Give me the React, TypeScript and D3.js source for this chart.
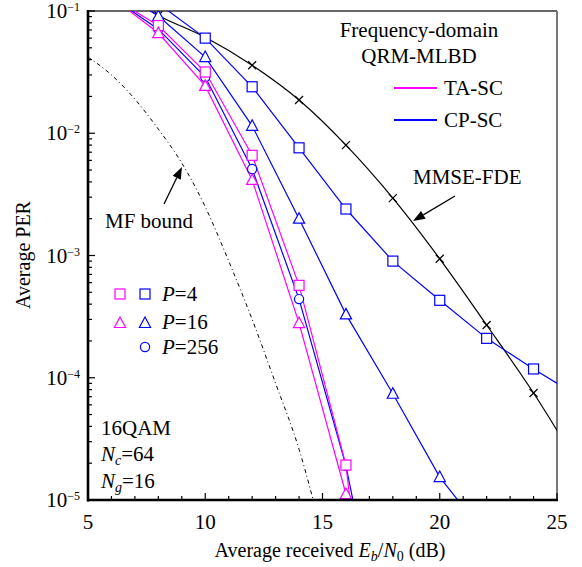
import React from 'react';
import * as d3 from 'd3';

type Pt = [number, number];

const W = 582;
const H = 567;
const PLOT = { left: 88, right: 557, top: 11, bottom: 500 };
const FONT = '"Liberation Serif", "Times New Roman", serif';

// axis ticks
const xTicks = [5, 10, 15, 20, 25];
const xMinor = d3.range(5, 26, 1);
const yTicks = [1e-1, 1e-2, 1e-3, 1e-4, 1e-5];
const yTickExp = ['−1', '−2', '−3', '−4', '−5'];

// values (Eb/N0 dB, PER)
const mfBound: Pt[] = [[5, 0.042], [6, 0.03], [7, 0.019], [8, 0.0108], [9, 0.0057], [10, 0.0025], [11, 0.0009], [12, 0.0003], [13, 9e-5], [14, 2.6e-5], [15, 5e-6]];
const mmseFde: Pt[] = [[6, 0.16], [8, 0.092], [10, 0.061], [12, 0.036], [14, 0.0187], [16, 0.008], [18, 0.00295], [20, 0.00094], [22, 0.00027], [24, 7.5e-5], [26, 1.8e-5]];
const cpP4: Pt[] = [[8, 0.115], [10, 0.06], [12, 0.024], [14, 0.0076], [16, 0.0024], [18, 0.0009], [20, 0.00043], [22, 0.00021], [24, 0.000118], [26, 6.9e-5]];
const cpP16: Pt[] = [[6, 0.16], [8, 0.091], [10, 0.042], [12, 0.0115], [14, 0.002], [16, 0.00033], [18, 7.4e-5], [20, 1.54e-5], [22, 5e-6]];
const cpP256: Pt[] = [[6, 0.13], [8, 0.071], [10, 0.0288], [12, 0.0051], [14, 0.00044], [16, 1.9e-5], [18, 2.5e-7]];
const taP4: Pt[] = [[6, 0.13], [8, 0.076], [10, 0.0317], [12, 0.0066], [14, 0.00057], [16, 1.93e-5], [18, 1e-8]];
const taP16: Pt[] = [[6, 0.13], [8, 0.066], [10, 0.0244], [12, 0.00415], [14, 0.00028], [16, 1.12e-5], [18, 6e-7]];

const MAGENTA = '#ff00ff';
const BLUE = '#0000ff';

type Marker = 'square' | 'triangle' | 'circle' | 'x' | 'none';

const series: { id: string; data: Pt[]; color: string; marker: Marker; smooth: boolean; dash?: string; width?: number }[] = [
  { id: 'mf', data: mfBound, color: '#000', marker: 'none', smooth: true, dash: '4,3,1,3', width: 1 },
  { id: 'mmse', data: mmseFde, color: '#000', marker: 'x', smooth: true },
  { id: 'cp4', data: cpP4, color: BLUE, marker: 'square', smooth: false },
  { id: 'cp16', data: cpP16, color: BLUE, marker: 'triangle', smooth: false },
  { id: 'cp256', data: cpP256, color: BLUE, marker: 'circle', smooth: false },
  { id: 'ta4', data: taP4, color: MAGENTA, marker: 'square', smooth: false },
  { id: 'ta16', data: taP16, color: MAGENTA, marker: 'triangle', smooth: false },
];

function MarkerShape({ kind, cx, cy, color }: { kind: Marker; cx: number; cy: number; color: string }) {
  const sw = 1.2;
  if (kind === 'square') return <rect x={cx - 5} y={cy - 5} width={10} height={10} fill="#fff" stroke={color} strokeWidth={sw} />;
  if (kind === 'circle') return <circle cx={cx} cy={cy} r={4.6} fill="#fff" stroke={color} strokeWidth={sw} />;
  if (kind === 'triangle')
    return <path d={`M${cx},${cy - 6}L${cx + 5.6},${cy + 4.5}L${cx - 5.6},${cy + 4.5}Z`} fill="#fff" stroke={color} strokeWidth={sw} />;
  if (kind === 'x')
    return <path d={`M${cx - 4},${cy - 4}L${cx + 4},${cy + 4}M${cx - 4},${cy + 4}L${cx + 4},${cy - 4}`} stroke={color} strokeWidth={sw} />;
  return null;
}

function Arrow({ x1, y1, x2, y2 }: { x1: number; y1: number; x2: number; y2: number }) {
  const a = Math.atan2(y2 - y1, x2 - x1);
  const len = 12, hw = 4.5;
  const bx = x2 - len * Math.cos(a), by = y2 - len * Math.sin(a);
  const px = -Math.sin(a) * hw, py = Math.cos(a) * hw;
  return (
    <g>
      <line x1={x1} y1={y1} x2={bx} y2={by} stroke="#000" strokeWidth={1.3} />
      <path d={`M${x2},${y2}L${bx + px},${by + py}L${bx - px},${by - py}Z`} fill="#000" />
    </g>
  );
}

export default function App() {
  const x = d3.scaleLinear().domain([5, 25]).range([PLOT.left, PLOT.right]);
  const y = d3.scaleLog().domain([1e-5, 1e-1]).range([PLOT.bottom, PLOT.top]);

  const yMinor: number[] = [];
  [1e-5, 1e-4, 1e-3, 1e-2].forEach(d => {
    for (let k = 2; k <= 9; k++) yMinor.push(d * k);
  });

  const lineFor = (smooth: boolean) =>
    d3.line<Pt>().x(d => x(d[0])).y(d => y(d[1])).curve(smooth ? d3.curveMonotoneX : d3.curveLinear);

  const fs = 21;

  return (
    <svg width={W} height={H} style={{ position: 'absolute', left: 0, top: 0, background: '#fff' }} fontFamily={FONT}>
      <defs>
        <clipPath id="plot-clip">
          <rect x={PLOT.left} y={PLOT.top} width={PLOT.right - PLOT.left} height={PLOT.bottom - PLOT.top} />
        </clipPath>
      </defs>

      {/* frame */}
      <line x1={PLOT.left} x2={PLOT.right} y1={PLOT.top} y2={PLOT.top} stroke="#333" strokeWidth={1.3} />
      <line x1={PLOT.right} x2={PLOT.right} y1={PLOT.top} y2={PLOT.bottom} stroke="#777" strokeWidth={2} />

      {/* ticks */}
      {yMinor.map(v => (
        <line key={'ym' + v} x1={PLOT.left} x2={PLOT.left + 4} y1={y(v)} y2={y(v)} stroke="#000" strokeWidth={1.2} />
      ))}
      {yTicks.map(v => (
        <line key={'yM' + v} x1={PLOT.left} x2={PLOT.left + 7} y1={y(v)} y2={y(v)} stroke="#000" strokeWidth={1.2} />
      ))}
      {xMinor.map(v => (
        <line key={'xm' + v} x1={x(v)} x2={x(v)} y1={PLOT.bottom} y2={PLOT.bottom - (v % 5 === 0 ? 7 : 4)} stroke="#000" strokeWidth={1.2} />
      ))}

      {/* curves */}
      <g clipPath="url(#plot-clip)">
        {series.map(s => (
          <path key={s.id} d={lineFor(s.smooth)(s.data) ?? ''} fill="none" stroke={s.color} strokeWidth={s.width ?? 1.2} strokeDasharray={s.dash} />
        ))}
        {series.map(s =>
          s.data.map(d => <MarkerShape key={s.id + d[0]} kind={s.marker} cx={x(d[0])} cy={y(d[1])} color={s.color} />)
        )}
      </g>

      {/* main axes */}
      <line x1={PLOT.left} x2={PLOT.left} y1={PLOT.top - 1} y2={PLOT.bottom + 1.5} stroke="#000" strokeWidth={2.6} />
      <line x1={PLOT.left - 1} x2={PLOT.right + 1} y1={PLOT.bottom} y2={PLOT.bottom} stroke="#000" strokeWidth={2.6} />

      {/* tick labels */}
      {yTicks.map((v, i) => (
        <text key={'yl' + v} x={80} y={y(v) + 7} textAnchor="end" fontSize={fs} fill="#000">
          10<tspan fontSize={12} dy={-7}>{yTickExp[i]}</tspan>
        </text>
      ))}
      {xTicks.map(v => (
        <text key={'xl' + v} x={x(v)} y={529} textAnchor="middle" fontSize={fs} fill="#000">
          {v}
        </text>
      ))}

      {/* axis titles */}
      <text transform="translate(30,255) rotate(-90)" textAnchor="middle" fontSize={20} fill="#000">
        Average PER
      </text>
      <text x={330} y={557} textAnchor="middle" fontSize={20} fill="#000">
        Average received <tspan fontStyle="italic">E</tspan>
        <tspan fontStyle="italic" fontSize={14} dy={4}>b</tspan>
        <tspan dy={-4}>/</tspan>
        <tspan fontStyle="italic">N</tspan>
        <tspan fontSize={14} dy={4}>0</tspan>
        <tspan dy={-4}> (dB)</tspan>
      </text>

      {/* legend: decoder */}
      <text x={419} y={37} textAnchor="middle" fontSize={fs} fill="#000">Frequency-domain</text>
      <text x={419} y={63} textAnchor="middle" fontSize={fs} fill="#000">QRM-MLBD</text>
      <line x1={394} x2={437} y1={88} y2={88} stroke={MAGENTA} strokeWidth={2} />
      <text x={444} y={95} fontSize={fs} fill="#000">TA-SC</text>
      <line x1={394} x2={437} y1={120} y2={120} stroke={BLUE} strokeWidth={2} />
      <text x={444} y={127} fontSize={fs} fill="#000">CP-SC</text>

      {/* annotations */}
      <text x={413} y={184} fontSize={fs} fill="#000">MMSE-FDE</text>
      <Arrow x1={455} y1={196} x2={413} y2={221} />
      <text x={105} y={228} fontSize={fs} fill="#000">MF bound</text>
      <Arrow x1={164} y1={204} x2={182} y2={167} />

      {/* legend: P */}
      <MarkerShape kind="square" cx={120} cy={294} color={MAGENTA} />
      <MarkerShape kind="square" cx={145} cy={294} color={BLUE} />
      <text x={162} y={301} fontSize={fs} fill="#000"><tspan fontStyle="italic">P</tspan>=4</text>
      <MarkerShape kind="triangle" cx={120} cy={323} color={MAGENTA} />
      <MarkerShape kind="triangle" cx={145} cy={323} color={BLUE} />
      <text x={162} y={329} fontSize={fs} fill="#000"><tspan fontStyle="italic">P</tspan>=16</text>
      <MarkerShape kind="circle" cx={145} cy={347} color={BLUE} />
      <text x={162} y={354} fontSize={fs} fill="#000"><tspan fontStyle="italic">P</tspan>=256</text>

      {/* parameters */}
      <text x={101} y={435} fontSize={fs} fill="#000">16QAM</text>
      <text x={101} y={461} fontSize={fs} fill="#000">
        <tspan fontStyle="italic">N</tspan><tspan fontStyle="italic" fontSize={14} dy={4}>c</tspan><tspan dy={-4}>=64</tspan>
      </text>
      <text x={101} y={488} fontSize={fs} fill="#000">
        <tspan fontStyle="italic">N</tspan><tspan fontStyle="italic" fontSize={14} dy={4}>g</tspan><tspan dy={-4}>=16</tspan>
      </text>
    </svg>
  );
}
